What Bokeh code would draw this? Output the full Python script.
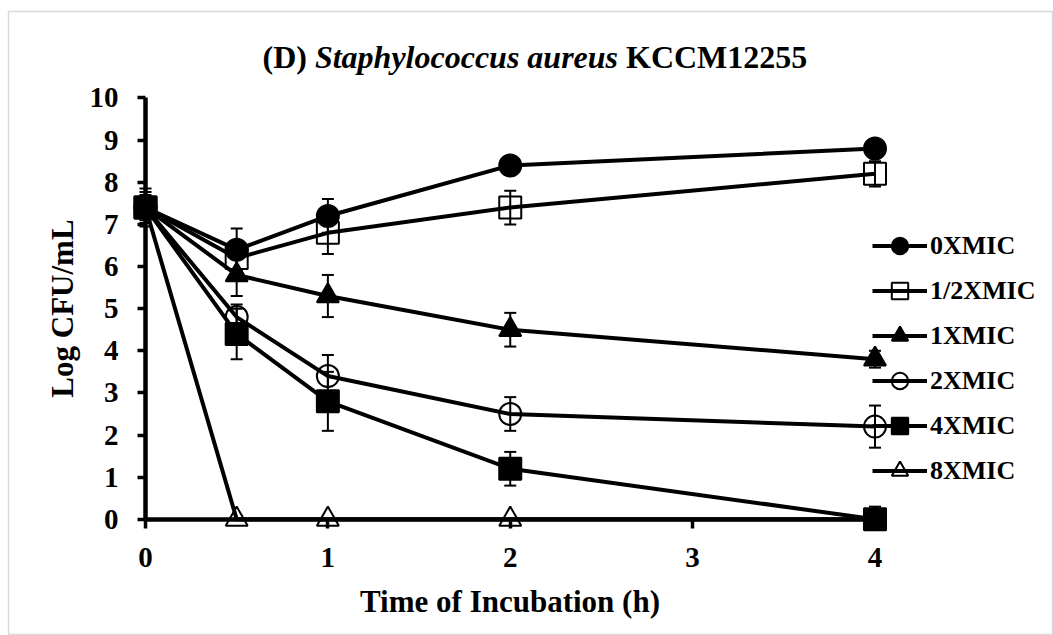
import numpy as np
from bokeh.plotting import figure
from bokeh.models import (ColumnDataSource, Whisker, TeeHead, Legend, LegendItem,
                          Label, FixedTicker, LinearAxis, Range1d)
from bokeh.embed import file_html
from bokeh.resources import INLINE

# ---------------- data ----------------
time_h = [0, 0.5, 1, 2, 4]
series_names = ["0XMIC", "1/2XMIC", "1XMIC", "2XMIC", "4XMIC", "8XMIC"]

log_0x = [7.4, 6.4, 7.2, 8.4, 8.8]
log_half = [7.4, 6.2, 6.8, 7.4, 8.2]
log_1x = [7.4, 5.8, 5.3, 4.5, 3.8]
log_2x = [7.4, 4.8, 3.4, 2.5, 2.2]
log_4x = [7.4, 4.4, 2.8, 1.2, 0.0]
log_8x = [7.4, 0.0, 0.0, 0.0, 0.0]

err_0x = [0.45, 0.5, 0.4, 0.2, 0.2]
err_half = [0.37, 0.3, 0.5, 0.4, 0.3]
err_1x = [0.3, 0.5, 0.5, 0.4, 0.2]
err_2x = [0.2, 0.3, 0.5, 0.4, 0.5]
err_4x = [0.2, 0.6, 0.7, 0.4, 0.3]
err_8x = [0.2, 0.0, 0.0, 0.0, 0.0]

x_ticks = [0, 1, 2, 3, 4]
y_ticks = [0, 1, 2, 3, 4, 5, 6, 7, 8, 9, 10]

all_logs = [log_0x, log_half, log_1x, log_2x, log_4x, log_8x]
all_errs = [err_0x, err_half, err_1x, err_2x, err_4x, err_8x]
markers = ["circle", "square", "triangle", "circle", "square", "triangle"]
filled = [True, False, True, False, True, False]

FONT = "Liberation Serif"

# ---------------- figure ----------------
W, H = 1053, 635
p = figure(width=W, height=H, output_backend="svg", toolbar_location=None,
           x_range=Range1d(-0.7512, 4.9788), y_range=Range1d(-2.758, 12.053),
           x_axis_type=None, y_axis_type=None,
           min_border_left=8, min_border_right=0, min_border_top=11, min_border_bottom=0)
p.outline_line_color = "#d9d9d9"
p.outline_line_width = 1.5
p.background_fill_color = "white"
p.border_fill_color = "white"

xaxis = LinearAxis(fixed_location=0, bounds=(0, 4), ticker=FixedTicker(ticks=x_ticks),
                   axis_label="Time of Incubation (h)")
yaxis = LinearAxis(fixed_location=0, bounds=(0, 10), ticker=FixedTicker(ticks=y_ticks),
                   axis_label="Log CFU/mL")
for ax in (xaxis, yaxis):
    ax.axis_line_color = "black"
    ax.axis_line_width = 4.5
    ax.major_tick_line_color = "black"
    ax.major_tick_line_width = 3.5
    ax.major_tick_in = 0
    ax.minor_tick_line_color = None
    ax.major_label_text_font = FONT
    ax.major_label_text_font_style = "bold"
    ax.major_label_text_font_size = "29px"
    ax.major_label_text_color = "black"
    ax.axis_label_text_font = FONT
    ax.axis_label_text_font_style = "bold"
    ax.axis_label_text_font_size = "31px"
    ax.axis_label_text_color = "black"
xaxis.major_tick_out = 9
xaxis.major_label_standoff = 20
xaxis.axis_label_standoff = 13
yaxis.major_tick_out = 8
yaxis.major_label_standoff = 19
yaxis.axis_label_standoff = 7
p.add_layout(xaxis, "below")
p.add_layout(yaxis, "left")

# ---------------- error bars ----------------
wx, wu, wl = [], [], []
for ys, es in zip(all_logs, all_errs):
    for t, v, e in zip(time_h, ys, es):
        if e > 0:
            wx.append(t)
            wu.append(v + e)
            wl.append(max(v - e, 0.0))
wsrc = ColumnDataSource(dict(base=wx, upper=wu, lower=wl))
p.add_layout(Whisker(source=wsrc, base="base", upper="upper", lower="lower",
                     dimension="height", line_color="black", line_width=2,
                     upper_head=TeeHead(size=12, line_width=2, line_color="black"),
                     lower_head=TeeHead(size=12, line_width=2, line_color="black")))

# ---------------- series ----------------
items = []
for name, ys, mk, fl in zip(series_names, all_logs, markers, filled):
    src = ColumnDataSource(dict(x=time_h, y=ys))
    lr = p.line("x", "y", source=src, line_color="black", line_width=4)
    sr = p.scatter("x", "y", source=src, marker=mk, size=22,
                   fill_color="black" if fl else None, line_color="black",
                   line_width=2)
    items.append(LegendItem(label=name, renderers=[lr, sr]))

legend = Legend(items=items, location=(864, 144), orientation="vertical",
                glyph_width=55, glyph_height=41, spacing=4, padding=0, margin=0,
                label_standoff=3, border_line_color=None, background_fill_alpha=0,
                label_text_font=FONT, label_text_font_style="bold",
                label_text_font_size="26px", label_text_color="black")
p.add_layout(legend)

# ---------------- title (mixed styles) ----------------
ty = 579
common = dict(x_units="screen", y_units="screen", text_font=FONT, text_font_size="32px",
              text_baseline="alphabetic", text_color="black")
p.add_layout(Label(x=254, y=ty, text="(D)", text_font_style="bold", **common))
p.add_layout(Label(x=306.4, y=ty, text="Staphylococcus aureus",
                   text_font_style="bold italic", **common))
p.add_layout(Label(x=617.5, y=ty, text="KCCM12255", text_font_style="bold", **common))

open("out.html", "w").write(file_html(p, INLINE))
